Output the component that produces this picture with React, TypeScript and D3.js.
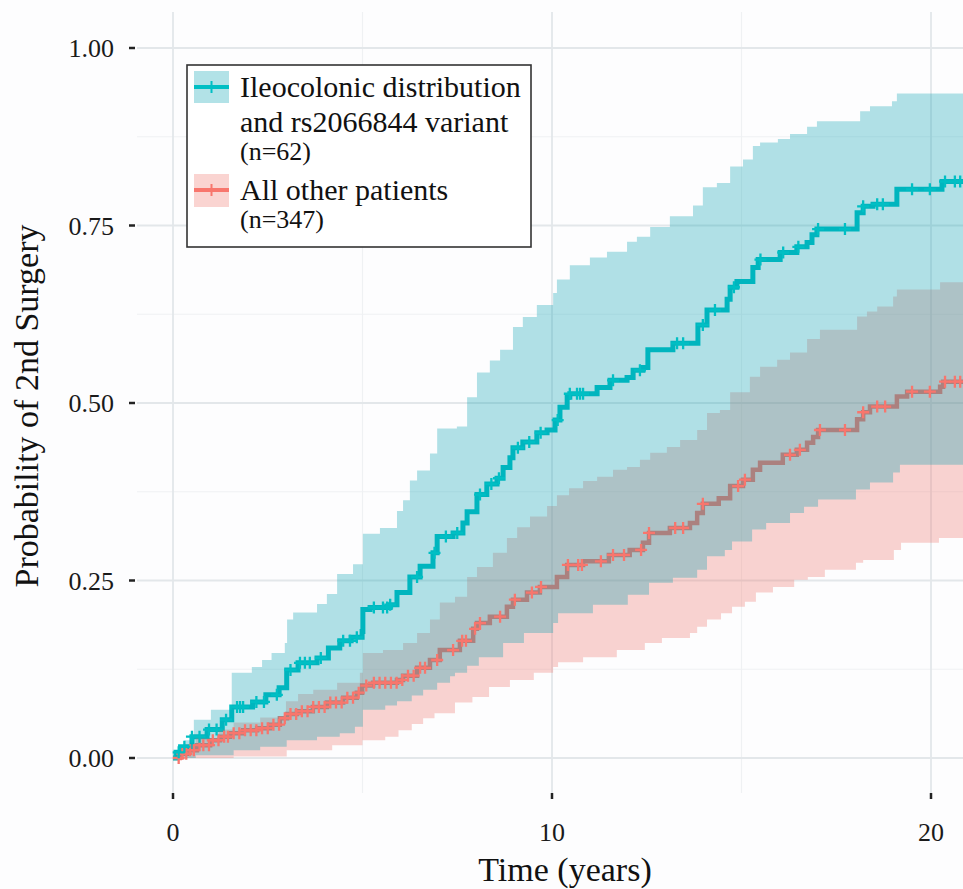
import React from "react";
import * as d3 from "d3";

// ---------- Data ----------
const xTicks = [0, 10, 20];
const xMinor = [5, 15];
const yTicks = [0, 0.25, 0.5, 0.75, 1];
const yMinor = [0.125, 0.375, 0.625, 0.875];
const yTickLabels = ["0.00", "0.25", "0.50", "0.75", "1.00"];
const END_TIME = 21.2;

const tealEst: [number, number][] = [
  [0, 0], [0.08, 0.008], [0.2, 0.016], [0.5, 0.03], [0.9, 0.04], [1.3, 0.054], [1.55, 0.072],
  [2.1, 0.079], [2.45, 0.089], [2.8, 0.099], [3.0, 0.124], [3.3, 0.134], [3.8, 0.141],
  [4.1, 0.155], [4.4, 0.165], [4.7, 0.17], [4.99, 0.178], [5.01, 0.209], [5.2, 0.212],
  [5.73, 0.216], [5.91, 0.233], [6.25, 0.255], [6.52, 0.27], [6.86, 0.289], [6.97, 0.312],
  [7.39, 0.317], [7.65, 0.331], [7.76, 0.347], [8.02, 0.371], [8.28, 0.386], [8.55, 0.394],
  [8.71, 0.409], [8.89, 0.423], [8.97, 0.437], [9.23, 0.445], [9.6, 0.458], [9.87, 0.462],
  [10.08, 0.476], [10.21, 0.494], [10.4, 0.508], [10.47, 0.513], [11.19, 0.522], [11.53, 0.532],
  [11.98, 0.536], [12.14, 0.546], [12.4, 0.55], [12.53, 0.575], [13.19, 0.584], [13.85, 0.61],
  [14.09, 0.631], [14.62, 0.646], [14.7, 0.663], [14.88, 0.671], [15.3, 0.691], [15.44, 0.702],
  [16.02, 0.712], [16.46, 0.72], [16.73, 0.726], [16.86, 0.737], [16.99, 0.745], [18.05, 0.768],
  [18.21, 0.777], [18.47, 0.78], [19.1, 0.801], [20.29, 0.812],
];

const tealUpper: [number, number][] = [
  [0, 0], [0.05, 0.011], [0.3, 0.025], [0.55, 0.054], [1.0, 0.068], [1.55, 0.12], [2.08, 0.128],
  [2.35, 0.138], [2.6, 0.148], [2.95, 0.162], [3.01, 0.195], [3.17, 0.205], [3.8, 0.217],
  [4.06, 0.231], [4.33, 0.259], [4.75, 0.273], [5.01, 0.316], [5.46, 0.324], [5.91, 0.348],
  [6.07, 0.363], [6.25, 0.391], [6.44, 0.405], [6.78, 0.429], [6.97, 0.464], [7.49, 0.467],
  [7.76, 0.508], [8.02, 0.543], [8.36, 0.56], [8.63, 0.575], [8.97, 0.607], [9.23, 0.621],
  [9.6, 0.638], [10.03, 0.655], [10.13, 0.674], [10.47, 0.694], [11.0, 0.705], [11.45, 0.713],
  [11.98, 0.727], [12.24, 0.734], [12.59, 0.748], [13.11, 0.763], [13.72, 0.778], [13.98, 0.804],
  [14.35, 0.81], [14.7, 0.833], [15.04, 0.843], [15.3, 0.862], [15.49, 0.867], [15.96, 0.872],
  [16.28, 0.879], [16.73, 0.889], [16.99, 0.897], [18.13, 0.911], [18.39, 0.918], [18.97, 0.925],
  [19.1, 0.936],
];

const tealLower: [number, number][] = [
  [0, 0], [0.6, 0.004], [1.6, 0.011], [2.3, 0.016], [3.0, 0.025], [3.8, 0.03], [4.4, 0.035],
  [4.8, 0.044], [5.01, 0.068], [5.6, 0.074], [5.91, 0.08], [6.3, 0.088], [6.6, 0.096],
  [6.97, 0.106], [7.31, 0.115], [7.44, 0.12], [7.76, 0.13], [8.07, 0.142], [8.71, 0.162],
  [9.26, 0.176], [10.03, 0.19], [10.16, 0.204], [11.08, 0.216], [12.0, 0.23], [12.56, 0.247],
  [13.19, 0.254], [13.83, 0.265], [14.09, 0.284], [14.56, 0.293], [14.75, 0.305], [15.28, 0.322],
  [15.65, 0.331], [16.28, 0.345], [16.65, 0.354], [17.02, 0.364], [18.02, 0.378], [18.39, 0.388],
  [19.0, 0.402], [19.18, 0.413],
];

const redEst: [number, number][] = [
  [0, 0], [0.18, 0.006], [0.37, 0.011], [0.63, 0.018], [0.98, 0.025], [1.24, 0.03], [1.5, 0.035],
  [1.85, 0.039], [2.22, 0.042], [2.56, 0.047], [2.82, 0.056], [3.01, 0.062], [3.27, 0.066],
  [3.69, 0.072], [4.06, 0.078], [4.49, 0.085], [4.85, 0.092], [4.99, 0.102], [5.28, 0.106],
  [5.91, 0.11], [6.07, 0.116], [6.44, 0.127], [6.78, 0.138], [7.04, 0.152], [7.57, 0.165],
  [7.92, 0.182], [8.02, 0.19], [8.36, 0.199], [8.81, 0.213], [8.97, 0.223], [9.34, 0.233],
  [9.68, 0.241], [10.13, 0.255], [10.4, 0.272], [10.82, 0.277], [11.5, 0.286], [12.05, 0.293],
  [12.4, 0.303], [12.56, 0.317], [13.11, 0.324], [13.64, 0.331], [13.83, 0.345], [13.98, 0.358],
  [14.4, 0.366], [14.7, 0.383], [15.04, 0.392], [15.3, 0.406], [15.49, 0.416], [16.09, 0.427],
  [16.46, 0.434], [16.73, 0.444], [16.89, 0.452], [17.02, 0.462], [18.05, 0.477], [18.21, 0.487],
  [18.39, 0.495], [19.1, 0.509], [19.37, 0.516], [20.24, 0.523], [20.32, 0.53],
];

const redUpper: [number, number][] = [
  [0, 0], [0.2, 0.013], [0.6, 0.028], [1.2, 0.04], [1.6, 0.05], [2.3, 0.057], [2.98, 0.08],
  [3.3, 0.09], [3.7, 0.096], [4.33, 0.106], [4.93, 0.12], [5.01, 0.148], [5.54, 0.152],
  [6.07, 0.162], [6.44, 0.176], [6.78, 0.195], [7.04, 0.219], [7.44, 0.227], [7.76, 0.255],
  [8.02, 0.269], [8.44, 0.289], [8.81, 0.31], [9.08, 0.325], [9.42, 0.34], [9.87, 0.355],
  [10.13, 0.37], [10.45, 0.38], [10.82, 0.39], [11.19, 0.396], [11.61, 0.406], [11.98, 0.41],
  [12.32, 0.42], [12.59, 0.43], [13.03, 0.438], [13.38, 0.448], [13.83, 0.462], [14.09, 0.486],
  [14.43, 0.49], [14.7, 0.515], [15.22, 0.537], [15.49, 0.551], [15.94, 0.561], [16.28, 0.571],
  [16.73, 0.59], [17.07, 0.603], [18.05, 0.622], [18.31, 0.629], [18.58, 0.636], [19.0, 0.65],
  [19.1, 0.66], [20.24, 0.67],
];

const redLower: [number, number][] = [
  [0, 0], [1.6, 0.002], [3.0, 0.011], [4.2, 0.018], [5.0, 0.025], [5.6, 0.03], [5.95, 0.039],
  [6.3, 0.048], [6.6, 0.056], [6.9, 0.063], [7.44, 0.078], [7.9, 0.086], [8.34, 0.1],
  [8.89, 0.11], [9.52, 0.12], [10.03, 0.128], [10.16, 0.135], [10.82, 0.142], [11.71, 0.152],
  [12.45, 0.162], [12.9, 0.169], [13.64, 0.176], [13.83, 0.185], [14.09, 0.195], [14.46, 0.204],
  [14.75, 0.213], [15.09, 0.22], [15.38, 0.233], [15.83, 0.241], [16.39, 0.251], [16.75, 0.255],
  [17.2, 0.265], [18.02, 0.275], [18.21, 0.279], [19.02, 0.293], [19.21, 0.303], [20.21, 0.31],
];

const tealCensor = [
  0.15, 0.3, 0.5, 0.7, 0.95, 1.15, 1.4, 1.69, 1.77, 1.85, 2.2, 2.4, 2.74, 3.1, 3.35, 3.48, 3.61,
  3.9, 4.49, 4.67, 4.85, 5.3, 5.54, 5.65, 5.73, 6.44, 6.9, 7.2, 7.5, 8.1, 8.4, 8.6, 9.1, 9.4, 9.7,
  10.15, 10.47, 10.66, 10.74, 10.82, 11.61, 12.32, 13.3, 13.46, 13.98, 14.3, 14.8, 15.5, 16.1,
  16.5, 17.02, 17.73, 18.21, 18.58, 18.73, 19.5, 19.97, 20.37, 20.63, 20.77,
];

const redCensor = [
  0.15, 0.25, 0.35, 0.45, 0.55, 0.7, 0.8, 0.95, 1.05, 1.2, 1.35, 1.45, 1.6, 1.75, 1.9, 2.05, 2.2,
  2.35, 2.5, 2.65, 2.8, 2.95, 3.1, 3.25, 3.4, 3.55, 3.7, 3.85, 4.0, 4.15, 4.3, 4.45, 4.6, 4.75,
  4.9, 5.1, 5.3, 5.45, 5.6, 5.75, 5.9, 6.05, 6.2, 6.35, 6.52, 6.65, 6.97, 7.39, 7.63, 7.73, 7.97,
  8.1, 8.63, 9.02, 9.47, 9.71, 10.42, 10.69, 10.79, 11.29, 11.61, 11.9, 12.35, 12.56, 13.25,
  13.46, 13.98, 14.91, 15.09, 16.28, 16.54, 17.07, 17.73, 18.21, 18.58, 18.79, 19.5, 19.97,
  20.37, 20.63, 20.77,
];

const legendLines = [
  { text: "Ileocolonic distribution", size: 30 },
  { text: "and rs2066844 variant", size: 30 },
  { text: "(n=62)", size: 26 },
  { text: "All other patients", size: 30 },
  { text: "(n=347)", size: 26 },
];

// ---------- Styling ----------
const TEAL = "#00BFC4";
const RED = "#F8766D";
const TEAL_FILL = "#00A0B0";
const RED_FILL = "#F07068";
const FONT = "'Liberation Serif', 'Times New Roman', serif";

function stepAt(arr: [number, number][], t: number) {
  let v = arr[0][1];
  for (const [tt, vv] of arr) {
    if (tt <= t) v = vv;
    else break;
  }
  return v;
}

export default function App() {
  const W = 963;
  const H = 889;
  const panel = { left: 137, right: 963, top: 12, bottom: 793 };
  const x = d3.scaleLinear().domain([0, 20]).range([173, 931]);
  const y = d3.scaleLinear().domain([0, 1]).range([758, 48]);

  const line = d3
    .line<[number, number]>()
    .x((d) => x(d[0]))
    .y((d) => y(d[1]))
    .curve(d3.curveStepAfter);

  const band = (lo: [number, number][], hi: [number, number][]) => {
    const times = Array.from(new Set([...lo.map((d) => d[0]), ...hi.map((d) => d[0]), END_TIME])).sort(
      (a, b) => a - b
    );
    const data = times.map((t) => ({ t, lo: stepAt(lo, t), hi: stepAt(hi, t) }));
    return d3
      .area<{ t: number; lo: number; hi: number }>()
      .x((d) => x(d.t))
      .y0((d) => y(d.lo))
      .y1((d) => y(d.hi))
      .curve(d3.curveStepAfter)(data);
  };

  const ext = (arr: [number, number][]) => [...arr, [END_TIME, arr[arr.length - 1][1]] as [number, number]];

  const cross = (times: number[], est: [number, number][], color: string, key: string) =>
    times.map((t, i) => {
      const cx = x(t);
      const cy = y(stepAt(est, t));
      return (
        <path
          key={key + i}
          d={`M${cx - 6},${cy}H${cx + 6}M${cx},${cy - 6}V${cy + 6}`}
          stroke={color}
          strokeWidth={2.3}
          fill="none"
        />
      );
    });

  const legendBaselines = [97, 132, 160, 200, 228];

  return (
    <div>
      <style>{`body{margin:0;background:#fff}`}</style>
      <svg width={W} height={H} style={{ display: "block", fontFamily: FONT }}>
        <defs>
          <clipPath id="panelClip">
            <rect x={panel.left} y={panel.top} width={panel.right - panel.left} height={panel.bottom - panel.top} />
          </clipPath>
        </defs>
        <rect x={0} y={0} width={W} height={H} fill="#fdfdfe" />

        {/* minor grid */}
        {xMinor.map((v) => (
          <line key={"xm" + v} x1={x(v)} x2={x(v)} y1={panel.top} y2={panel.bottom} stroke="#eff1f3" strokeWidth={1.2} />
        ))}
        {yMinor.map((v) => (
          <line key={"ym" + v} x1={panel.left} x2={panel.right} y1={y(v)} y2={y(v)} stroke="#eff1f3" strokeWidth={1.2} />
        ))}
        {/* major grid */}
        {xTicks.map((v) => (
          <line key={"xg" + v} x1={x(v)} x2={x(v)} y1={panel.top} y2={panel.bottom} stroke="#e3e7ea" strokeWidth={1.8} />
        ))}
        {yTicks.map((v) => (
          <line key={"yg" + v} x1={panel.left} x2={panel.right} y1={y(v)} y2={y(v)} stroke="#e3e7ea" strokeWidth={1.8} />
        ))}

        <g clipPath="url(#panelClip)">
          <path d={line(ext(redEst)) || ""} fill="none" stroke={RED} strokeWidth={4.5} />
          <path d={line(ext(tealEst)) || ""} fill="none" stroke={TEAL} strokeWidth={5} />
          <path d={band(redLower, redUpper) || ""} fill={RED_FILL} fillOpacity={0.3} />
          <path d={band(tealLower, tealUpper) || ""} fill={TEAL_FILL} fillOpacity={0.3} />
          {cross(redCensor, redEst, RED, "rc")}
          {cross(tealCensor, tealEst, TEAL, "tc")}
        </g>

        {/* y axis */}
        {yTicks.map((v, i) => (
          <g key={"yt" + v}>
            <line x1={129} x2={135} y1={y(v)} y2={y(v)} stroke="#222" strokeWidth={2.5} />
            <text x={114} y={y(v)} dy="0.35em" textAnchor="end" fontSize={26} fill="#1a1a1a">
              {yTickLabels[i]}
            </text>
          </g>
        ))}
        {/* x axis */}
        {xTicks.map((v) => (
          <g key={"xt" + v}>
            <line x1={x(v)} x2={x(v)} y1={793} y2={799} stroke="#222" strokeWidth={2.5} />
            <text x={x(v)} y={841} textAnchor="middle" fontSize={26} fill="#1a1a1a">
              {v}
            </text>
          </g>
        ))}
        <text x={565} y={881} textAnchor="middle" fontSize={34} fill="#111">
          Time (years)
        </text>
        <text
          transform={`translate(38,406) rotate(-90)`}
          textAnchor="middle"
          fontSize={34}
          fill="#111"
        >
          Probability of 2nd Surgery
        </text>

        {/* legend */}
        <rect x={187} y={65} width={344} height={182} fill="#ffffff" stroke="#333" strokeWidth={1.6} />
        <rect x={194} y={71} width={35} height={32} fill={TEAL_FILL} fillOpacity={0.3} />
        <line x1={194} x2={229} y1={87} y2={87} stroke={TEAL} strokeWidth={4} />
        <line x1={211.5} x2={211.5} y1={81} y2={93} stroke={TEAL} strokeWidth={2} />
        <rect x={194} y={174} width={35} height={33} fill={RED_FILL} fillOpacity={0.3} />
        <line x1={194} x2={229} y1={190} y2={190} stroke={RED} strokeWidth={4} />
        <line x1={211.5} x2={211.5} y1={184} y2={196} stroke={RED} strokeWidth={2} />
        {legendLines.map((l, i) => (
          <text key={"lg" + i} x={240} y={legendBaselines[i]} fontSize={l.size} fill="#111">
            {l.text}
          </text>
        ))}
      </svg>
    </div>
  );
}
